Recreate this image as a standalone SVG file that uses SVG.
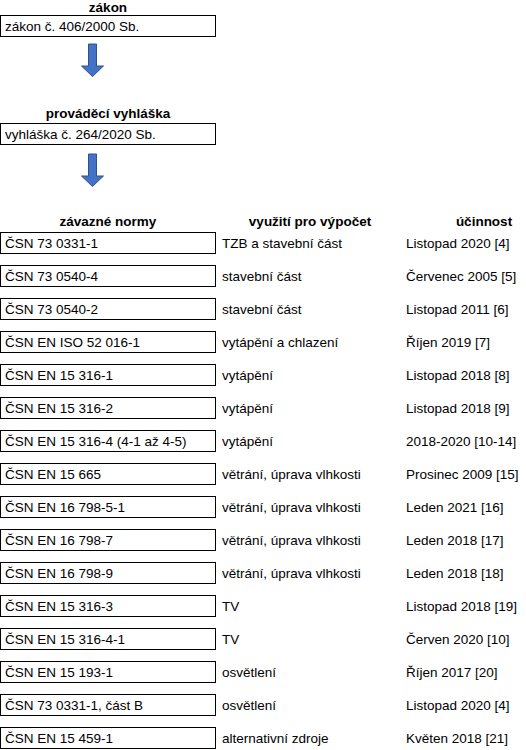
<svg xmlns="http://www.w3.org/2000/svg" width="526" height="750" viewBox="0 0 526 750">
<defs>
<style>
text{font-family:"Liberation Sans",Arial,sans-serif;font-size:13.5px;fill:#000}
.h{font-weight:bold;text-anchor:middle}
.box{fill:#fff;stroke:#000;stroke-width:1}
.arr{fill:#4472C4;stroke:#2F528F;stroke-width:1}
</style>
<path id="arrow" d="M88.5,44 H96.5 V66 H103.5 L92.5,76.5 L81.5,66 H88.5 Z"/>
</defs>
<rect width="526" height="750" fill="#fff"/>
<g id="zakon">
<text class="h" x="108" y="12">zákon</text>
<rect class="box" x="0.5" y="15.5" width="215" height="21"/>
<text x="5" y="31">zákon č. 406/2000 Sb.</text>
</g>
<g id="vyhlaska">
<text class="h" x="108" y="118">prováděcí vyhláška</text>
<rect class="box" x="0.5" y="123.5" width="215" height="21"/>
<text x="5" y="139">vyhláška č. 264/2020 Sb.</text>
</g>
<g id="connectors">
<use href="#arrow" class="arr"/>
<use href="#arrow" class="arr" y="110"/>
</g>
<g id="headers">
<text class="h" x="108" y="226">závazné normy</text>
<text class="h" x="310" y="226">využití pro výpočet</text>
<text class="h" x="484" y="226">účinnost</text>
</g>
<g id="row1"><rect class="box" x="0.5" y="232.5" width="215" height="21"/><text x="5" y="248">ČSN 73 0331-1</text><text x="222" y="248">TZB a stavební část</text><text x="406" y="248">Listopad 2020 [4]</text></g>
<g id="row2"><rect class="box" x="0.5" y="265.5" width="215" height="21"/><text x="5" y="281">ČSN 73 0540-4</text><text x="222" y="281">stavební část</text><text x="406" y="281">Červenec 2005 [5]</text></g>
<g id="row3"><rect class="box" x="0.5" y="298.5" width="215" height="21"/><text x="5" y="314">ČSN 73 0540-2</text><text x="222" y="314">stavební část</text><text x="406" y="314">Listopad 2011 [6]</text></g>
<g id="row4"><rect class="box" x="0.5" y="331.5" width="215" height="21"/><text x="5" y="347">ČSN EN ISO 52 016-1</text><text x="222" y="347">vytápění a chlazení</text><text x="406" y="347">Říjen 2019 [7]</text></g>
<g id="row5"><rect class="box" x="0.5" y="364.5" width="215" height="21"/><text x="5" y="380">ČSN EN 15 316-1</text><text x="222" y="380">vytápění</text><text x="406" y="380">Listopad 2018 [8]</text></g>
<g id="row6"><rect class="box" x="0.5" y="397.5" width="215" height="21"/><text x="5" y="413">ČSN EN 15 316-2</text><text x="222" y="413">vytápění</text><text x="406" y="413">Listopad 2018 [9]</text></g>
<g id="row7"><rect class="box" x="0.5" y="430.5" width="215" height="21"/><text x="5" y="446">ČSN EN 15 316-4 (4-1 až 4-5)</text><text x="222" y="446">vytápění</text><text x="406" y="446">2018-2020 [10-14]</text></g>
<g id="row8"><rect class="box" x="0.5" y="463.5" width="215" height="21"/><text x="5" y="479">ČSN EN 15 665</text><text x="222" y="479">větrání, úprava vlhkosti</text><text x="406" y="479">Prosinec 2009 [15]</text></g>
<g id="row9"><rect class="box" x="0.5" y="496.5" width="215" height="21"/><text x="5" y="512">ČSN EN 16 798-5-1</text><text x="222" y="512">větrání, úprava vlhkosti</text><text x="406" y="512">Leden 2021 [16]</text></g>
<g id="row10"><rect class="box" x="0.5" y="529.5" width="215" height="21"/><text x="5" y="545">ČSN EN 16 798-7</text><text x="222" y="545">větrání, úprava vlhkosti</text><text x="406" y="545">Leden 2018 [17]</text></g>
<g id="row11"><rect class="box" x="0.5" y="562.5" width="215" height="21"/><text x="5" y="578">ČSN EN 16 798-9</text><text x="222" y="578">větrání, úprava vlhkosti</text><text x="406" y="578">Leden 2018 [18]</text></g>
<g id="row12"><rect class="box" x="0.5" y="595.5" width="215" height="21"/><text x="5" y="611">ČSN EN 15 316-3</text><text x="222" y="611">TV</text><text x="406" y="611">Listopad 2018 [19]</text></g>
<g id="row13"><rect class="box" x="0.5" y="628.5" width="215" height="21"/><text x="5" y="644">ČSN EN 15 316-4-1</text><text x="222" y="644">TV</text><text x="406" y="644">Červen 2020 [10]</text></g>
<g id="row14"><rect class="box" x="0.5" y="661.5" width="215" height="21"/><text x="5" y="677">ČSN EN 15 193-1</text><text x="222" y="677">osvětlení</text><text x="406" y="677">Říjen 2017 [20]</text></g>
<g id="row15"><rect class="box" x="0.5" y="694.5" width="215" height="21"/><text x="5" y="710">ČSN 73 0331-1, část B</text><text x="222" y="710">osvětlení</text><text x="406" y="710">Listopad 2020 [4]</text></g>
<g id="row16"><rect class="box" x="0.5" y="727.5" width="215" height="21"/><text x="5" y="743">ČSN EN 15 459-1</text><text x="222" y="743">alternativní zdroje</text><text x="406" y="743">Květen 2018 [21]</text></g>
</svg>
